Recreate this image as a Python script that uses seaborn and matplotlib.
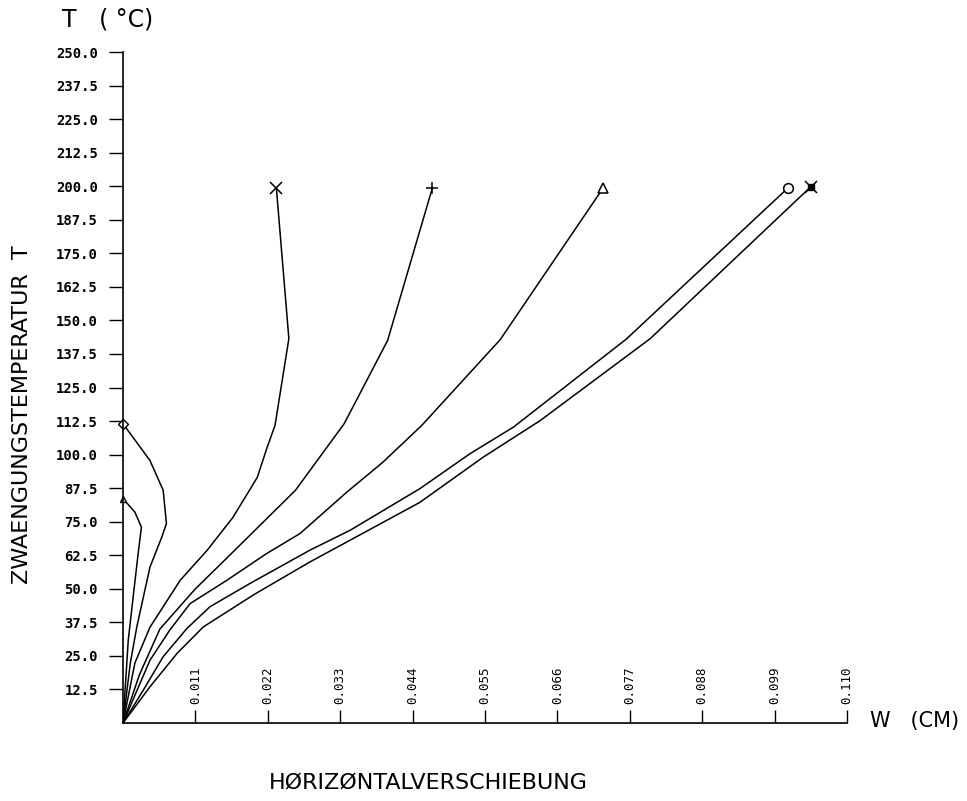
import numpy as np
import pandas as pd
import matplotlib
matplotlib.use('Agg')
import matplotlib.pyplot as plt
import seaborn as sns

# curves: horizontal displacement W (cm) vs constraint temperature T (deg C)
w_x = [0, 0.0018, 0.0041, 0.0087, 0.0128, 0.0167, 0.0204, 0.0219, 0.0231, 0.0252, 0.0233]
t_x = [0, 22.3, 35.7, 53.2, 64.4, 76.6, 91.5, 102.7, 110.9, 143.2, 199.4]

w_plus = [0, 0.0025, 0.0056, 0.0110, 0.0160, 0.0198, 0.0262, 0.0336, 0.0402, 0.0470]
t_plus = [0, 18.0, 35.0, 50.0, 62.0, 71.2, 86.7, 111.5, 142.5, 199.3]

w_tri = [0, 0.0041, 0.0071, 0.0102, 0.0158, 0.0218, 0.0269, 0.0340, 0.0395, 0.0454, 0.0573, 0.0730]
t_tri = [0, 23.4, 34.6, 44.5, 53.2, 63.1, 70.6, 86.0, 97.2, 110.9, 142.8, 199.5]

w_circ = [0, 0.0031, 0.0061, 0.0097, 0.0132, 0.0193, 0.0284, 0.0345, 0.0451, 0.0527, 0.0593, 0.0765, 0.1011]
t_circ = [0, 12.3, 24.7, 35.2, 43.3, 52.0, 64.4, 71.8, 87.3, 100.3, 110.2, 143.1, 199.5]

w_sqx = [0, 0.0041, 0.0082, 0.0122, 0.0200, 0.0284, 0.0345, 0.0451, 0.0547, 0.0634, 0.0801, 0.1045]
t_sqx = [0, 13.5, 25.9, 35.8, 48.0, 60.0, 68.1, 82.2, 99.0, 112.7, 143.2, 199.8]

w_dia = [0, 0.0011, 0.0021, 0.0031, 0.0041, 0.0059, 0.0066, 0.0061, 0.0041, 0]
t_dia = [0, 22.2, 35.8, 47.0, 58.1, 69.3, 74.3, 86.7, 97.8, 111.5]

w_stri = [0, 0.0008, 0.0016, 0.0023, 0.0028, 0.0018, 0]
t_stri = [0, 30.9, 48.2, 63.1, 73.0, 78.6, 83.6]

x_ticks = [0.011, 0.022, 0.033, 0.044, 0.055, 0.066, 0.077, 0.088, 0.099, 0.110]
y_ticks = [12.5 * i for i in range(1, 21)]

curves = {
    'x': (w_x, t_x), 'plus': (w_plus, t_plus), 'tri': (w_tri, t_tri),
    'circ': (w_circ, t_circ), 'sqx': (w_sqx, t_sqx),
    'dia': (w_dia, t_dia), 'stri': (w_stri, t_stri),
}
df = pd.concat([pd.DataFrame({'W': w, 'T': t, 'curve': k}) for k, (w, t) in curves.items()],
               ignore_index=True)

sns.set_theme(style="white")
plt.rcParams['font.family'] = ['DejaVu Sans']
plt.rcParams['text.color'] = 'black'

fig = plt.figure(figsize=(9.67, 8.01), dpi=100)
ax = fig.add_axes([123 / 967, 78 / 801, 724 / 967, 671 / 801])

sns.lineplot(data=df, x='W', y='T', units='curve', estimator=None, sort=False,
             color='black', linewidth=1.1, ax=ax, legend=False)

# end markers
ax.plot(w_x[-1], t_x[-1], marker='x', ms=8, mew=1.1, color='black', clip_on=False)
ax.plot(w_plus[-1], t_plus[-1], marker='+', ms=9, mew=1.1, color='black', clip_on=False)
ax.plot(w_tri[-1], t_tri[-1], marker='^', ms=7, mfc='white', mec='black', mew=1.1, clip_on=False)
ax.plot(w_circ[-1], t_circ[-1], marker='o', ms=7, mfc='white', mec='black', mew=1.1, clip_on=False)
ax.plot(w_sqx[-1], t_sqx[-1], marker='s', ms=5, color='black', clip_on=False)
ax.plot(w_sqx[-1], t_sqx[-1], marker='x', ms=9, mew=1.1, color='black', clip_on=False)
ax.plot(w_dia[-1], t_dia[-1], marker='D', ms=5, mfc='white', mec='black', mew=1.0, clip_on=False)
ax.plot(w_stri[-1], t_stri[-1], marker='^', ms=5, mfc='white', mec='black', mew=1.0, clip_on=False)

ax.set_xlim(0, 0.110)
ax.set_ylim(0, 250)
ax.set_xlabel('')
ax.set_ylabel('')
for s in ['top', 'right']:
    ax.spines[s].set_visible(False)
for s in ['left', 'bottom']:
    ax.spines[s].set_color('black')
    ax.spines[s].set_linewidth(1.2)

ax.set_yticks(y_ticks)
ax.set_yticklabels([f'{v:.1f}' for v in y_ticks], family='DejaVu Sans Mono',
                   fontweight='bold', fontsize=10, color='black')
ax.tick_params(axis='y', left=True, direction='out', length=10, width=1, pad=8, color='black')

ax.set_xticks(x_ticks)
ax.set_xticklabels([f'{v:.3f}' for v in x_ticks], family='DejaVu Sans Mono', fontsize=9,
                   color='black')
ax.tick_params(axis='x', bottom=True, direction='in', length=9.5, width=1, pad=-14,
               labelrotation=90, color='black')
for lab in ax.get_xticklabels():
    lab.set_va('bottom')

fig.text(62 / 967, 1 - 20 / 801, 'T   ( °C)', ha='left', va='center', fontsize=17)
fig.text(22 / 967, 1 - 415 / 801, 'ZWAENGUNGSTEMPERATUR  T', rotation=90,
         ha='center', va='center', fontsize=16)
fig.text(870 / 967, 1 - 721 / 801, 'W   (CM)', ha='left', va='center', fontsize=15)
fig.text(428 / 967, 1 - 783 / 801, 'HØRIZØNTALVERSCHIEBUNG', ha='center', va='center',
         fontsize=16)

fig.savefig('out.png', dpi=100)
